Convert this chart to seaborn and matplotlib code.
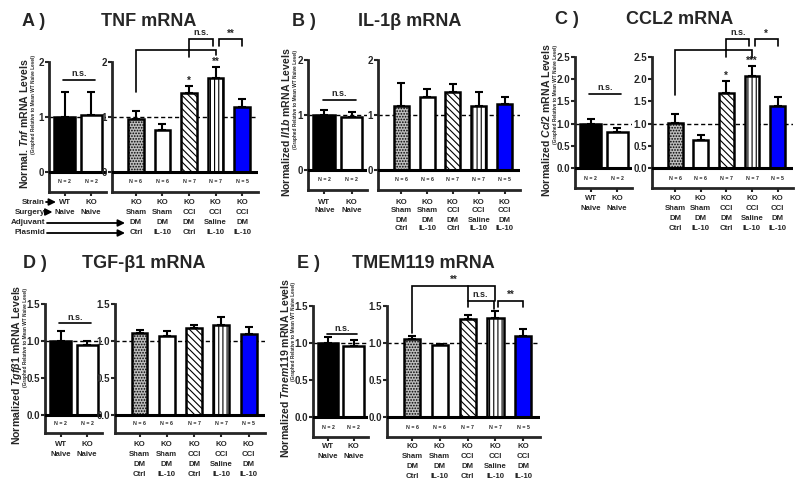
import numpy as np
import pandas as pd
import matplotlib
matplotlib.use("Agg")
import matplotlib.pyplot as plt
import matplotlib.transforms as mtransforms
import seaborn as sns

# ---------------- data ----------------
left_groups = ["WT\nNaive", "KO\nNaive"]
right_groups = ["KO\nSham\nDM\nCtrl", "KO\nSham\nDM\nIL-10", "KO\nCCI\nDM\nCtrl",
                "KO\nCCI\nSaline\nIL-10", "KO\nCCI\nDM\nIL-10"]
left_n = ["N = 2", "N = 2"]
right_n = ["N = 6", "N = 6", "N = 7", "N = 7", "N = 5"]

tnf_left_mean = [1.00, 1.04]
tnf_left_sem = [0.45, 0.42]
tnf_right_mean = [0.96, 0.77, 1.43, 1.70, 1.19]
tnf_right_sem = [0.14, 0.11, 0.13, 0.21, 0.14]

il1b_left_mean = [1.00, 0.96]
il1b_left_sem = [0.09, 0.09]
il1b_right_mean = [1.16, 1.32, 1.42, 1.16, 1.20]
il1b_right_sem = [0.42, 0.16, 0.14, 0.26, 0.12]

ccl2_left_mean = [1.00, 0.81]
ccl2_left_sem = [0.11, 0.08]
ccl2_right_mean = [1.02, 0.62, 1.69, 2.07, 1.39]
ccl2_right_sem = [0.20, 0.13, 0.27, 0.22, 0.20]

tgfb1_left_mean = [1.00, 0.95]
tgfb1_left_sem = [0.14, 0.05]
tgfb1_right_mean = [1.11, 1.07, 1.18, 1.22, 1.10]
tgfb1_right_sem = [0.04, 0.07, 0.04, 0.11, 0.09]

tmem_left_mean = [1.00, 0.96]
tmem_left_sem = [0.08, 0.08]
tmem_right_mean = [1.05, 0.97, 1.32, 1.34, 1.09]
tmem_right_sem = [0.04, 0.02, 0.06, 0.09, 0.10]

# ---------------- style ----------------
sns.set_style("ticks")
plt.rcParams["font.family"] = ["Liberation Sans", "DejaVu Sans"]
plt.rcParams["font.weight"] = "bold"
plt.rcParams["mathtext.fontset"] = "custom"
plt.rcParams["mathtext.it"] = "Liberation Sans:italic:bold"
plt.rcParams["mathtext.rm"] = "Liberation Sans:bold"
plt.rcParams["mathtext.bf"] = "Liberation Sans:bold"
plt.rcParams["hatch.linewidth"] = 0.8

W, H = 800, 487
fig = plt.figure(figsize=(W / 100, H / 100), dpi=100)
fig.patch.set_facecolor("white")

left_faces = ["#000000", "#ffffff"]
left_hatches = [None, None]
right_faces = ["#bdbdbd", "#ffffff", "#ffffff", "#ffffff", "#0000ff"]
right_hatches = ["......", None, "\\\\\\\\\\", "||||", None]


def add_ax(box):
    x0, y0, x1, y1 = box
    return fig.add_axes([x0 / W, 1 - y1 / H, (x1 - x0) / W, (y1 - y0) / H])


def draw_bars(ax, groups, means, sems, faces, hatches, width, xlim, ylim,
              yticks, fmt, nlabels, rows):
    n = len(groups)
    df = pd.DataFrame({"group": groups, "mean": means})
    sns.barplot(data=df, x="group", y="mean", hue="group", palette=faces,
                legend=False, errorbar=None, width=width, saturation=1,
                edgecolor="k", linewidth=1.8, ax=ax, zorder=2)
    for p, h in zip(ax.patches, hatches):
        if h:
            p.set_hatch(h)
    ax.errorbar(np.arange(n), means, yerr=[np.zeros(n), sems], fmt="none",
                ecolor="k", elinewidth=1.5, capsize=3, capthick=1.5, zorder=1.5)
    ax.axhline(0, color="k", lw=2.2, zorder=3)
    ax.axhline(1, color="k", lw=1.0, ls=(0, (3, 2)), zorder=1)
    ax.set_xlim(xlim)
    ax.set_ylim(ylim)
    ax.set_yticks(yticks)
    ax.set_yticklabels([fmt.format(t) for t in yticks])
    ax.set_xticks(np.arange(n))
    ax.set_xticklabels([])
    ax.set_xlabel("")
    ax.set_ylabel("")
    for s in ["top", "right"]:
        ax.spines[s].set_visible(False)
    for s in ["left", "bottom"]:
        ax.spines[s].set_linewidth(2)
    ax.tick_params(axis="y", length=3, width=1.5, labelsize=7, pad=0.5,
                   direction="out")
    ax.tick_params(axis="x", length=3, width=1.5, direction="out")
    for i, t in enumerate(nlabels):
        ax.text(i, ylim[0] / 2, t, ha="center", va="center", fontsize=3.8)
    trans = mtransforms.blended_transform_factory(ax.transData, fig.transFigure)
    for i, g in enumerate(groups):
        for j, line in enumerate(g.split("\n")):
            ax.text(i, 1 - rows[j] / H, line, transform=trans, ha="center",
                    va="center", fontsize=5.6)


def bracket(ax, x0, x1, y, y0end, y1end, lw=1.2):
    ax.plot([x0, x0, x1, x1], [y0end, y, y, y1end], color="k", lw=lw,
            clip_on=False, solid_joinstyle="miter", zorder=4)


def vline(ax, x, y0, y1, lw=1.2):
    ax.plot([x, x], [y0, y1], color="k", lw=lw, clip_on=False, zorder=4)


def label(ax, x, y, s, size=6.5):
    ax.text(x, y, s, ha="center", va="bottom", fontsize=size, clip_on=False)


def fig_text(x, y, s, **kw):
    fig.text(x / W, 1 - y / H, s, **kw)


panels = [
    dict(key="A", title="TNF mRNA", tx=149, ty=21, lx=22,
         lbox=(49, 62, 106, 192), rbox=(112, 62, 258, 192), ylim=(-0.364, 2.0),
         yticks=[0, 1, 2], fmt="{:.0f}", rows=[202, 212, 223, 233],
         lm=tnf_left_mean, ls=tnf_left_sem, rm=tnf_right_mean, rs=tnf_right_sem,
         ylab=r"Normal. $\mathit{Tnf}$ mRNA Levels", ylx=24, yly=124,
         sublx=33, subly=55),
    dict(key="B", title="IL-1β mRNA", tx=410, ty=22, lx=292,
         lbox=(308, 60, 367, 190), rbox=(378, 60, 520, 190), ylim=(-0.364, 2.0),
         yticks=[0, 1, 2], fmt="{:.0f}", rows=[202, 211, 220, 229],
         lm=il1b_left_mean, ls=il1b_left_sem, rm=il1b_right_mean, rs=il1b_right_sem,
         ylab=r"Normalized $\mathit{Il1b}$ mRNA Levels", ylx=286, yly=122,
         sublx=295, subly=50),
    dict(key="C", title="CCL2 mRNA", tx=680, ty=20, lx=555,
         lbox=(575, 57, 632, 188), rbox=(652, 57, 793, 188), ylim=(-0.45, 2.5),
         yticks=[0, 0.5, 1.0, 1.5, 2.0, 2.5], fmt="{:.1f}", rows=[199, 208, 218, 228],
         lm=ccl2_left_mean, ls=ccl2_left_sem, rm=ccl2_right_mean, rs=ccl2_right_sem,
         ylab=r"Normalized $\mathit{Ccl2}$ mRNA Levels", ylx=546.5, yly=120,
         sublx=555, subly=45),
    dict(key="D", title="TGF-β1 mRNA", tx=144, ty=263, lx=23,
         lbox=(45, 304, 102, 433), rbox=(115, 304, 265, 433), ylim=(-0.245, 1.5),
         yticks=[0, 0.5, 1.0, 1.5], fmt="{:.1f}", rows=[444, 455, 465, 475],
         lm=tgfb1_left_mean, ls=tgfb1_left_sem, rm=tgfb1_right_mean, rs=tgfb1_right_sem,
         ylab=r"Normalized $\mathit{Tgf\beta1}$ mRNA Levels", ylx=17, yly=365,
         sublx=25.5, subly=288),
    dict(key="E", title="TMEM119 mRNA", tx=423, ty=263, lx=297,
         lbox=(313, 306, 368, 437), rbox=(387, 306, 540, 437), ylim=(-0.27, 1.5),
         yticks=[0, 0.5, 1.0, 1.5], fmt="{:.1f}", rows=[447, 457, 467, 477],
         lm=tmem_left_mean, ls=tmem_left_sem, rm=tmem_right_mean, rs=tmem_right_sem,
         ylab=r"Normalized $\mathit{Tmem119}$ mRNA Levels", ylx=285, yly=368,
         sublx=293.5, subly=282),
]

axes = {}
for p in panels:
    axl = add_ax(p["lbox"])
    axr = add_ax(p["rbox"])
    draw_bars(axl, left_groups, p["lm"], p["ls"], left_faces, left_hatches, 0.8,
              (-0.6, 1.57), p["ylim"], p["yticks"], p["fmt"], left_n, p["rows"])
    draw_bars(axr, right_groups, p["rm"], p["rs"], right_faces, right_hatches, 0.58,
              (-0.9, 4.6), p["ylim"], p["yticks"], p["fmt"], right_n, p["rows"])
    axes[p["key"]] = (axl, axr)
    fig_text(p["lx"], p["ty"], p["key"] + " )", fontsize=13, ha="left", va="center")
    fig_text(p["tx"], p["ty"], p["title"], fontsize=13, ha="center", va="center")
    fig_text(p["ylx"], p["yly"], p["ylab"], fontsize=7.6, rotation=90,
             ha="center", va="center")
    fig_text(p["sublx"], p["subly"], "(Graphed Relative to Mean WT Naive Level)",
             fontsize=3.4, rotation=90, ha="center", va="top")

# ---------------- significance marks ----------------
# A
axl, axr = axes["A"]
bracket(axl, -0.05, 1.15, 1.67, 1.67, 1.67)
label(axl, 0.55, 1.70, "n.s.")
bracket(axr, 0, 3, 2.22, 1.45, 2.12)
vline(axr, 2, 2.22, 2.09)
bracket(axr, 2.0, 2.9, 2.42, 2.22, 2.29)
bracket(axr, 3.12, 4.0, 2.42, 2.29, 2.29)
label(axr, 2.45, 2.45, "n.s.")
label(axr, 3.56, 2.42, "**", 7)
label(axr, 2, 1.57, "*", 7)
label(axr, 3, 1.92, "**", 7)

# B
axl, axr = axes["B"]
bracket(axl, -0.05, 1.15, 1.27, 1.27, 1.27)
label(axl, 0.55, 1.30, "n.s.")

# C
axl, axr = axes["C"]
bracket(axl, -0.05, 1.15, 1.67, 1.67, 1.67)
label(axl, 0.55, 1.71, "n.s.")
bracket(axr, 0, 3, 2.66, 1.65, 2.48)
vline(axr, 2, 2.66, 2.50)
bracket(axr, 2.0, 2.9, 2.91, 2.66, 2.75)
bracket(axr, 3.12, 4.0, 2.91, 2.75, 2.75)
label(axr, 2.45, 2.95, "n.s.")
label(axr, 3.56, 2.92, "*", 7)
label(axr, 2, 1.97, "*", 7)
label(axr, 3, 2.30, "***", 7)

# D
axl, axr = axes["D"]
bracket(axl, -0.05, 1.15, 1.24, 1.24, 1.24)
label(axl, 0.55, 1.26, "n.s.")

# E
axl, axr = axes["E"]
bracket(axl, -0.05, 1.15, 1.12, 1.12, 1.12)
label(axl, 0.55, 1.14, "n.s.")
bracket(axr, 0, 3, 1.77, 1.14, 1.57)
vline(axr, 2, 1.77, 1.57)
bracket(axr, 2.0, 2.95, 1.57, 1.49, 1.46)
bracket(axr, 3.1, 4.0, 1.57, 1.49, 1.49)
label(axr, 2.45, 1.59, "n.s.")
label(axr, 3.55, 1.58, "**", 7)
label(axr, 1.5, 1.78, "**", 7)

# ---------------- panel A row descriptors ----------------
rowsA = [202, 212, 223, 233]
fig_text(45, rowsA[0], "Strain", fontsize=5.8, ha="right", va="center")
fig_text(45, rowsA[1], "Surgery", fontsize=5.8, ha="right", va="center")
fig_text(45, rowsA[2], "Adjuvant", fontsize=5.8, ha="right", va="center")
fig_text(45, rowsA[3], "Plasmid", fontsize=5.8, ha="right", va="center")
arrow_kw = dict(arrowstyle="-|>,head_length=0.4,head_width=0.2", lw=1.3,
                color="k", shrinkA=0, shrinkB=0, mutation_scale=10)
for y, x0, x1 in [(rowsA[0], 46, 56), (rowsA[1], 46, 52.5),
                  (rowsA[2], 47, 125), (rowsA[3], 47, 125)]:
    fig.add_artist(matplotlib.patches.FancyArrowPatch(
        (x0 / W, 1 - y / H), (x1 / W, 1 - y / H), transform=fig.transFigure,
        **arrow_kw))

fig.savefig("out.png", dpi=100, facecolor="white")
